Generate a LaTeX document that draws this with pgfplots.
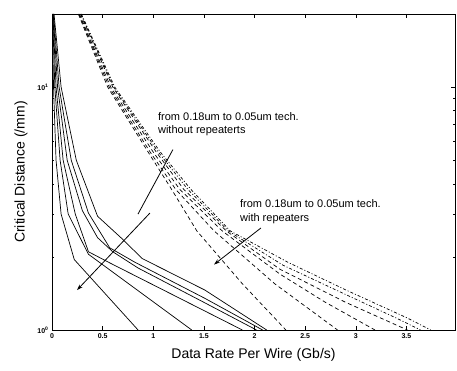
\documentclass[border=0pt]{standalone}
\usepackage{pgfplots}
\pgfplotsset{compat=1.18}
\usetikzlibrary{arrows.meta}
\usepackage{fontspec}
\setmainfont{Liberation Sans}
\begin{document}
\begin{tikzpicture}
\begin{axis}[
  at={(52pt,40pt)}, anchor=south west,
  scale only axis, width=403pt, height=316pt,
  ymode=log, xmin=0, xmax=3.98, ymin=1, ymax=20,
  xtick={0,0.5,1,1.5,2,2.5,3,3.5},
  xticklabels={0,0.5,1,1.5,2,2.5,3,3.5},
  ytick={1,10}, yticklabels={10\textsuperscript{0},10\textsuperscript{1}},
  tick align=inside, major tick length=4pt, minor tick length=2pt,
  tick style={black, line width=0.5pt},
  axis line style={line width=0.8pt},
  tick label style={font=\fontsize{7}{8}\selectfont\bfseries},
  /pgf/number format/assume math mode=true,
  xlabel={Data Rate Per Wire (Gb/s)},
  ylabel={Critical Distance (/mm)},
  label style={font=\fontsize{14}{16}\selectfont},
  xlabel style={at={(axis description cs:0.5,-0.078)}, anchor=center},
  ylabel style={at={(axis description cs:-0.077,0.5)}, anchor=center},
  clip=true,
]
% without repeaters (solid)
\addplot[black, line width=0.7pt] coordinates {(0.003,20) (0.015,10) (0.04,5) (0.09,3) (0.22,1.95) (0.85,1)};
\addplot[black, line width=0.7pt] coordinates {(0.006,20) (0.028,10) (0.08,5) (0.16,3) (0.36,2.05) (1.38,1)};
\addplot[black, line width=0.7pt] coordinates {(0.009,20) (0.04,10) (0.11,5) (0.23,3.0) (0.36,2.1) (0.57,1.89) (1.88,1)};
\addplot[black, line width=0.7pt] coordinates {(0.012,20) (0.055,10) (0.15,5) (0.30,3.1) (0.45,2.4) (0.6,2.1) (0.85,1.8) (1.5,1.3) (2.02,1)};
\addplot[black, line width=0.7pt] coordinates {(0.016,20) (0.07,10) (0.19,5) (0.36,3.03) (0.57,2.18) (0.82,1.9) (1.51,1.35) (2.08,1)};
\addplot[black, line width=0.7pt] coordinates {(0.02,20) (0.09,10) (0.24,5) (0.45,2.94) (0.69,2.38) (0.89,1.97) (1.51,1.46) (2.12,1)};
% with repeaters (dashed)
\addplot[black, line width=0.7pt, dash pattern=on 4pt off 3pt] coordinates {(0.26,20) (0.55,10) (0.95,5.4) (1.18,3.8) (1.43,2.56) (1.88,1.55) (2.31,1)};
\addplot[black, line width=0.7pt, dash pattern=on 4pt off 3pt] coordinates {(0.265,20) (0.565,10) (0.97,5.4) (1.22,3.8) (1.6,2.56) (2.2,1.55) (2.82,1)};
\addplot[black, line width=0.7pt, dash pattern=on 4pt off 3pt] coordinates {(0.27,20) (0.58,10) (1.0,5.4) (1.26,3.8) (1.68,2.56) (2.25,1.7) (2.7,1.3) (3.19,1)};
\addplot[black, line width=0.7pt, dash pattern=on 4pt off 3pt] coordinates {(0.28,20) (0.6,10) (1.03,5.4) (1.3,3.8) (1.72,2.56) (2.25,1.78) (2.9,1.3) (3.51,1)};
\addplot[black, line width=0.7pt, dash pattern=on 3pt off 2pt on 1pt off 2pt] coordinates {(0.285,20) (0.61,10) (1.05,5.4) (1.34,3.8) (1.74,2.56) (2.28,1.85) (2.9,1.4) (3.4,1.12) (3.64,1)};
\addplot[black, line width=0.7pt, dash pattern=on 3pt off 2pt on 1pt off 2pt] coordinates {(0.29,20) (0.62,10) (1.07,5.4) (1.37,3.8) (1.76,2.56) (2.33,1.9) (2.92,1.45) (3.51,1.12) (3.74,1)};
% annotations
\draw[line width=0.8pt] (axis cs:1.194,5.53) -- (axis cs:0.849,3.0);
\draw[line width=0.8pt, -{Stealth[length=6pt,width=4pt]}] (axis cs:0.967,3.03) -- (axis cs:0.247,1.46);
\draw[line width=0.8pt, -{Stealth[length=6pt,width=4pt]}] (axis cs:2.063,2.63) -- (axis cs:1.60,1.86);
\node[anchor=north west, align=left, inner sep=0pt, font=\fontsize{11}{13.5}\selectfont] at (axis cs:1.046,7.9) {from 0.18um to 0.05um tech.\\without repeaterts};
\node[anchor=north west, align=left, inner sep=0pt, font=\fontsize{11}{13.5}\selectfont] at (axis cs:1.856,3.45) {from 0.18um to 0.05um tech.\\with repeaters};
\end{axis}
\pgfresetboundingbox
\path (0,0) rectangle (457pt,370pt);
\end{tikzpicture}
\end{document}
